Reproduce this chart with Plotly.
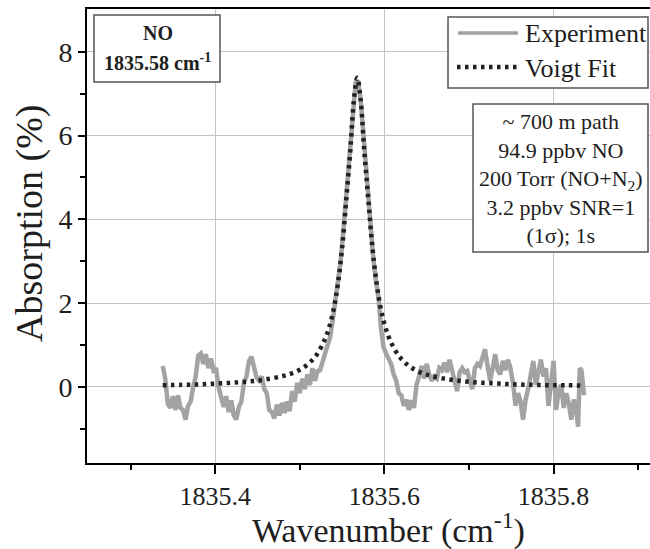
import plotly.graph_objects as go

# ---------------- data ----------------
exp_x = [1835.338, 1835.341, 1835.344, 1835.347, 1835.350, 1835.353, 1835.356, 1835.359,
         1835.362, 1835.365, 1835.368, 1835.371, 1835.374, 1835.377, 1835.380, 1835.383,
         1835.386, 1835.389, 1835.392, 1835.395, 1835.398, 1835.401, 1835.404, 1835.407,
         1835.410, 1835.413, 1835.416, 1835.419, 1835.422, 1835.425, 1835.428, 1835.431,
         1835.434, 1835.437, 1835.440, 1835.443, 1835.446, 1835.449, 1835.452, 1835.455,
         1835.458, 1835.461, 1835.464, 1835.467, 1835.470, 1835.473, 1835.476, 1835.479,
         1835.482, 1835.485, 1835.488, 1835.491, 1835.494, 1835.497, 1835.500, 1835.503,
         1835.506, 1835.509, 1835.512, 1835.515, 1835.518, 1835.521, 1835.524, 1835.527,
         1835.530, 1835.533, 1835.536, 1835.539, 1835.542, 1835.545, 1835.548, 1835.551,
         1835.554, 1835.557, 1835.560, 1835.563, 1835.566, 1835.569, 1835.572, 1835.575,
         1835.578, 1835.581, 1835.584, 1835.587, 1835.590, 1835.593, 1835.596, 1835.599,
         1835.602, 1835.605, 1835.608, 1835.611, 1835.614, 1835.617, 1835.620, 1835.623,
         1835.626, 1835.629, 1835.632, 1835.635, 1835.638, 1835.641, 1835.644, 1835.647,
         1835.650, 1835.653, 1835.656, 1835.659, 1835.662, 1835.665, 1835.668, 1835.671,
         1835.674, 1835.677, 1835.680, 1835.683, 1835.686, 1835.689, 1835.692, 1835.695,
         1835.698, 1835.701, 1835.704, 1835.707, 1835.710, 1835.713, 1835.716, 1835.719,
         1835.722, 1835.725, 1835.728, 1835.731, 1835.734, 1835.737, 1835.740, 1835.743,
         1835.746, 1835.749, 1835.752, 1835.755, 1835.758, 1835.761, 1835.764, 1835.767,
         1835.770, 1835.773, 1835.776, 1835.779, 1835.782, 1835.785, 1835.788, 1835.791,
         1835.794, 1835.797, 1835.800, 1835.803, 1835.806, 1835.809, 1835.812, 1835.815,
         1835.818, 1835.821, 1835.824, 1835.827, 1835.829, 1835.831, 1835.833, 1835.836]
exp_y = [0.50, 0.20, -0.40, -0.50, -0.22, -0.55, -0.20, -0.50,
         -0.55, -0.78, -0.45, -0.35, 0.00, 0.25, 0.75, 0.80,
         0.55, 0.78, 0.45, 0.68, 0.40, 0.45, 0.00, -0.20,
         -0.48, -0.22, -0.60, -0.32, -0.68, -0.78, -0.48, -0.35,
         0.10, 0.25, 0.62, 0.72, 0.50, 0.22, 0.15, 0.25,
         -0.05, -0.15, -0.55, -0.60, -0.75, -0.42, -0.68, -0.38,
         -0.62, -0.35, -0.58, -0.10, -0.35, 0.10, -0.15, 0.20,
         -0.05, 0.30, 0.05, 0.45, 0.15, 0.38, 0.40, 0.60,
         0.75, 0.95, 1.20, 1.60, 2.00, 2.45, 2.95, 3.60,
         4.30, 5.05, 5.85, 6.65, 7.25, 7.30, 6.85, 6.10,
         5.35, 4.50, 3.70, 3.05, 2.55, 2.15, 1.40, 0.95,
         0.80, 0.65, 0.55, 0.30, 0.15, -0.15, -0.20, -0.45,
         -0.30, -0.55, -0.32, -0.50, 0.05, 0.25, 0.50, 0.20,
         0.55, 0.30, 0.15, 0.25, 0.20, 0.45, 0.40, 0.58,
         0.35, 0.65, 0.42, 0.10, -0.10, 0.35, 0.45, 0.35,
         0.38, 0.15, -0.05, 0.45, 0.55, 0.50, 0.68, 0.90,
         0.50, 0.15, 0.45, 0.78, 0.40, 0.30, 0.62, 0.40,
         0.65, 0.45, 0.10, -0.45, -0.15, -0.35, -0.78, -0.30,
         -0.05, 0.30, 0.62, 0.05, 0.35, 0.65, 0.25, 0.45,
         -0.45, 0.10, 0.62, -0.55, -0.10, 0.05, -0.50, -0.15,
         -0.40, -0.78, -0.30, -0.60, -0.95, 0.45, 0.40, -0.20]

fit_x = [1835.338, 1835.360, 1835.380, 1835.400, 1835.420, 1835.440, 1835.460, 1835.480,
         1835.490, 1835.500, 1835.510, 1835.520, 1835.530, 1835.535, 1835.540, 1835.545,
         1835.550, 1835.555, 1835.560, 1835.564, 1835.568, 1835.572, 1835.576, 1835.581,
         1835.586, 1835.591, 1835.596, 1835.601, 1835.606, 1835.616, 1835.626, 1835.636,
         1835.646, 1835.656, 1835.676, 1835.696, 1835.716, 1835.736, 1835.756, 1835.776,
         1835.796, 1835.816, 1835.836]
fit_y = [0.04, 0.05, 0.06, 0.08, 0.10, 0.13, 0.18, 0.26,
         0.32, 0.41, 0.55, 0.77, 1.15, 1.44, 1.85, 2.45,
         3.30, 4.48, 5.70, 6.85, 7.38, 6.85, 5.70, 4.48,
         3.30, 2.45, 1.85, 1.44, 1.15, 0.77, 0.55, 0.41,
         0.32, 0.26, 0.18, 0.13, 0.10, 0.08, 0.06, 0.05,
         0.04, 0.04, 0.03]

x_ticks = [1835.4, 1835.6, 1835.8]
x_minor = [1835.3, 1835.5, 1835.7, 1835.9]
y_ticks = [0, 2, 4, 6, 8]
y_minor = [-1, 1, 3, 5, 7]

legend_names = ["Experiment", "Voigt Fit"]
species_label = ["NO", "1835.58 cm<sup>-1</sup>"]
info_lines = ["~ 700 m path", "94.9 ppbv NO", "200 Torr (NO+N<sub>2</sub>)",
              "3.2 ppbv SNR=1", "(1σ); 1s"]

# ---------------- style ----------------
SERIF = "Liberation Serif, Times New Roman, serif"
EXP_COLOR = "#a3a3a3"
FIT_COLOR = "#222222"
GRID = "#c4c4c4"
BOX = "#555555"
TXT = "#1e1e1e"
DOTS = "3.5px,4.5px"

fig = go.Figure()
fig.add_trace(go.Scatter(x=exp_x, y=exp_y, mode="lines", name=legend_names[0],
                         line=dict(color=EXP_COLOR, width=4.5), showlegend=False))
fig.add_trace(go.Scatter(x=fit_x, y=fit_y, mode="lines", name=legend_names[1],
                         line=dict(color=FIT_COLOR, width=4.5, dash=DOTS),
                         line_shape="spline", showlegend=False))

W, H = 650, 549
L, R, T, B = 87, 0, 9, 86
pw, ph = W - L - R, H - T - B


def px(xp):
    return (xp - L) / pw


def py(yp):
    return (H - B - yp) / ph


shapes = []
annotations = []

# NO box
shapes.append(dict(type="rect", xref="paper", yref="paper", x0=px(94), x1=px(220),
                   y0=py(82), y1=py(15), line=dict(color=BOX, width=1.5),
                   fillcolor="white", layer="above"))
annotations.append(dict(xref="paper", yref="paper", x=px(158), y=py(33), text="<b>%s</b>" % species_label[0],
                        showarrow=False, font=dict(family=SERIF, size=20, color=TXT),
                        xanchor="center", yanchor="middle"))
annotations.append(dict(xref="paper", yref="paper", x=px(157), y=py(62), text="<b>%s</b>" % species_label[1],
                        showarrow=False, font=dict(family=SERIF, size=20, color=TXT),
                        xanchor="center", yanchor="middle"))

# legend box
shapes.append(dict(type="rect", xref="paper", yref="paper", x0=px(448), x1=px(648),
                   y0=py(88), y1=py(17), line=dict(color=BOX, width=1.5),
                   fillcolor="white", layer="above"))
shapes.append(dict(type="line", xref="paper", yref="paper", x0=px(458), x1=px(518),
                   y0=py(33), y1=py(33), line=dict(color=EXP_COLOR, width=3.5), layer="above"))
shapes.append(dict(type="line", xref="paper", yref="paper", x0=px(457), x1=px(521),
                   y0=py(67), y1=py(67), line=dict(color=FIT_COLOR, width=4.5, dash=DOTS),
                   layer="above"))
annotations.append(dict(xref="paper", yref="paper", x=px(523), y=py(34), text=legend_names[0],
                        showarrow=False, font=dict(family=SERIF, size=26, color=TXT),
                        xanchor="left", yanchor="middle"))
annotations.append(dict(xref="paper", yref="paper", x=px(523), y=py(68), text=legend_names[1],
                        showarrow=False, font=dict(family=SERIF, size=26, color=TXT),
                        xanchor="left", yanchor="middle"))

# info box
shapes.append(dict(type="rect", xref="paper", yref="paper", x0=px(473), x1=px(648),
                   y0=py(252), y1=py(104), line=dict(color=BOX, width=1.5),
                   fillcolor="white", layer="above"))
annotations.append(dict(xref="paper", yref="paper", x=px(560.5), y=py(178), text="<br>".join(info_lines),
                        showarrow=False, font=dict(family=SERIF, size=22, color=TXT),
                        xanchor="center", yanchor="middle", align="center"))

# axis titles
annotations.append(dict(xref="paper", yref="paper", x=px(29), y=py(224), text="Absorption (%)",
                        textangle=-90, showarrow=False,
                        font=dict(family=SERIF, size=38, color=TXT),
                        xanchor="center", yanchor="middle"))
annotations.append(dict(xref="paper", yref="paper", x=px(388), y=py(528), text="Wavenumber (cm<sup>-1</sup>)",
                        showarrow=False, font=dict(family=SERIF, size=34, color=TXT),
                        xanchor="center", yanchor="middle"))

fig.update_layout(
    width=W, height=H,
    margin=dict(l=L, r=R, t=T, b=B, pad=0),
    paper_bgcolor="white", plot_bgcolor="white",
    shapes=shapes, annotations=annotations,
    showlegend=False,
)
fig.update_xaxes(
    range=[1835.2485, 1835.914], tickvals=x_ticks, ticktext=[str(v) for v in x_ticks],
    showgrid=True, gridcolor=GRID, gridwidth=1, zeroline=False,
    showline=True, linecolor="black", linewidth=2, mirror=True,
    ticks="outside", ticklen=9, tickwidth=2, tickcolor="black",
    tickfont=dict(family=SERIF, size=26, color=TXT),
    minor=dict(tickvals=x_minor, ticks="outside", ticklen=5, tickwidth=2,
               tickcolor="black", showgrid=False),
)
fig.update_yaxes(
    range=[-1.815, 9.02], tickvals=y_ticks,
    showgrid=True, gridcolor=GRID, gridwidth=1, zeroline=False,
    showline=True, linecolor="black", linewidth=2, mirror=False,
    ticks="outside", ticklen=7, tickwidth=2, tickcolor="black",
    tickfont=dict(family=SERIF, size=28, color=TXT),
    minor=dict(tickvals=y_minor, ticks="outside", ticklen=5, tickwidth=2,
               tickcolor="black", showgrid=False),
)

fig.write_html("out.html", config={"displayModeBar": False},
               post_script="document.body.style.margin='0px';document.body.style.overflow='hidden';")
